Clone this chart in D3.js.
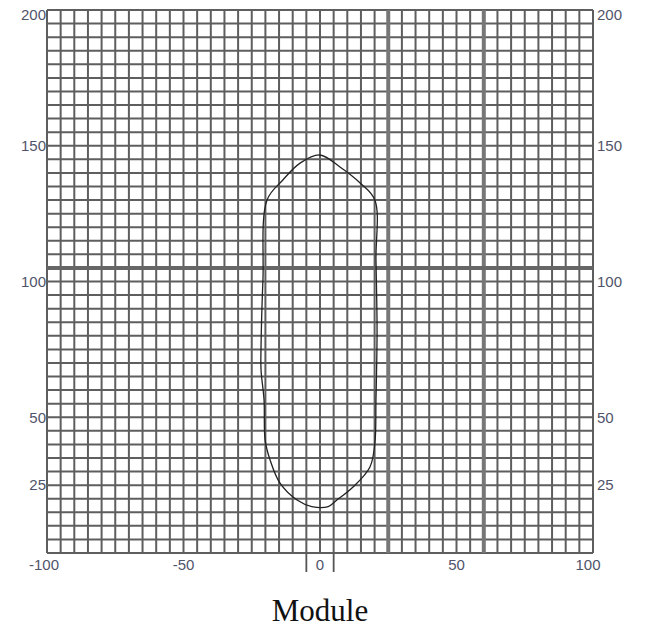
<!DOCTYPE html>
<html><head><meta charset="utf-8">
<script src="https://cdn.jsdelivr.net/npm/d3@7"></script>
<style>body{margin:0;background:#fff}svg{display:block}</style>
</head><body>
<svg id="c" width="646" height="627"></svg>
<script>
// data
const xTickLabels = [-100, -50, 0, 50, 100];
const yTickLabels = [200, 150, 100, 50, 25];
const gridStep = 5;
const heavyX = [25, 60];
const heavyY = [105];
const curveX = [0, 7.3, 14.7, 20.1, 20.5, 20.9, 20.5, 20.1, 18.3, 12.1, 6.2, 3, -3, -8.4, -14.7, -18.3, -20.1, -20.5, -21.6, -21.6, -20.9, -19.4, -13.6, -7.3];
const curveY = [146.6, 142.2, 136.3, 130, 108, 82, 56.4, 40.5, 31.7, 24.3, 19.5, 17.1, 17.1, 19.5, 25.8, 34.3, 41.6, 56.4, 67.4, 75.9, 100.6, 130, 137.4, 143.6];

const svg = d3.select('#c');
const x = d3.scaleLinear().domain([-100, 100]).range([47, 593]);
const y = d3.scaleLinear().domain([0, 200]).range([553, 10]);

const gx = d3.range(-100, 100 + 0.001, gridStep);
const gy = d3.range(0, 200 + 0.001, gridStep);
const g = svg.append('g');
g.selectAll('line.v').data(gx).join('line')
  .attr('x1', d => x(d)).attr('x2', d => x(d)).attr('y1', y(200)).attr('y2', y(0))
  .attr('stroke', '#5e5e5e').attr('stroke-width', 2);
g.selectAll('line.h').data(gy).join('line')
  .attr('y1', d => y(d)).attr('y2', d => y(d)).attr('x1', x(-100)).attr('x2', x(100))
  .attr('stroke', '#5e5e5e').attr('stroke-width', 2);
g.selectAll('line.hv').data(heavyX).join('line')
  .attr('x1', d => x(d)).attr('x2', d => x(d)).attr('y1', y(200)).attr('y2', y(0))
  .attr('stroke', '#777').attr('stroke-width', 4);
g.selectAll('line.hh').data(heavyY).join('line')
  .attr('y1', d => y(d)).attr('y2', d => y(d)).attr('x1', x(-100)).attr('x2', x(100))
  .attr('stroke', '#666').attr('stroke-width', 4);

// small marks beside the 0 label
[-5, 5].forEach(v => {
  svg.append('line').attr('x1', x(v)).attr('x2', x(v)).attr('y1', y(0)).attr('y2', y(0) + 19)
    .attr('stroke', '#555').attr('stroke-width', 1.8);
});

// curve
const pts = curveX.map((d, i) => [x(d), y(curveY[i])]);
svg.append('path')
  .attr('d', d3.line().curve(d3.curveCatmullRomClosed.alpha(0.5))(pts))
  .attr('fill', 'none').attr('stroke', '#222').attr('stroke-width', 1.3);

// labels
const lab = {fill: '#50546a', size: '15px', fam: '"Liberation Sans", Arial, sans-serif'};
yTickLabels.forEach(v => {
  const yy = Math.max(y(v), 15);
  svg.append('text').attr('x', 46).attr('y', yy).attr('dy', '0.35em')
    .attr('text-anchor', 'end').attr('font-family', lab.fam).attr('font-size', lab.size)
    .attr('fill', lab.fill).text(v);
  svg.append('text').attr('x', 597).attr('y', yy).attr('dy', '0.35em')
    .attr('text-anchor', 'start').attr('font-family', lab.fam).attr('font-size', lab.size)
    .attr('fill', lab.fill).text(v);
});
xTickLabels.forEach(v => {
  svg.append('text').attr('x', x(v) - (v === 100 ? 5 : v === -100 ? 3 : 0)).attr('y', 565).attr('dy', '0.35em')
    .attr('text-anchor', 'middle').attr('font-family', lab.fam).attr('font-size', lab.size)
    .attr('fill', lab.fill).text(v);
});

svg.append('text').attr('x', 320).attr('y', 621).attr('text-anchor', 'middle')
  .attr('font-family', '"Liberation Serif", "Times New Roman", serif').attr('font-size', '31px')
  .attr('fill', '#111').text('Module');
</script>
</body></html>
